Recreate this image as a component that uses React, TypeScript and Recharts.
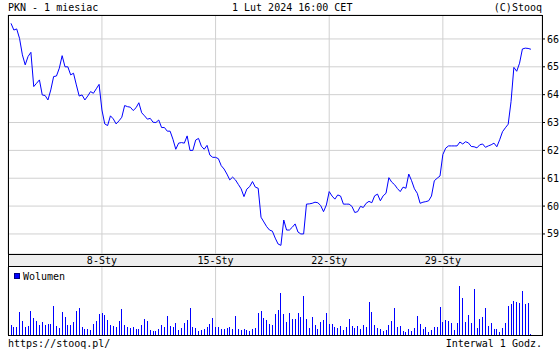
import { LineChart, Line, BarChart, Bar, XAxis, YAxis, CartesianGrid } from "recharts";

const FONT = "'DejaVu Sans Mono', monospace";
const BLUE = "#0000ff";
const GRID = "#d0d0d0";

// hourly closes, 2 Jan - 1 Feb 2024 (8 sessions hours per day)
const PRICES = [
  66.56, 66.32, 66.36, 66.02, 65.43, 65.07, 65.37, 65.52,
  64.29, 64.41, 64.53, 63.99, 63.97, 63.81, 64.17, 64.65,
  64.67, 64.95, 65.4, 65.0, 65.0, 64.71, 64.77, 64.35,
  63.95, 63.99, 63.81, 63.95, 64.11, 64.05, 64.21, 64.37,
  63.45, 62.95, 62.89, 63.24, 63.13, 62.95, 63.06, 63.19,
  63.61, 63.57, 63.55, 63.43, 63.53, 63.71, 63.35, 63.24,
  63.12, 63.15, 63.01, 63.0, 63.09, 62.82, 62.82, 62.69,
  62.69, 62.4, 62.04, 62.26, 62.28, 62.26, 62.52, 62.0,
  62.0, 62.37, 62.43, 62.15, 62.04, 62.18, 61.83, 61.75,
  61.75, 61.7, 61.45, 61.33, 61.15, 60.94, 61.04, 60.94,
  60.78, 60.62, 60.34, 60.61, 60.7, 60.88, 60.68, 60.64,
  59.6, 59.43, 59.26, 59.14, 59.1, 58.85, 58.64, 58.59,
  59.5, 59.14, 59.14, 59.24, 59.36, 59.07, 59.0, 59.0,
  60.07, 60.08, 60.1, 60.14, 60.12, 60.02, 59.8, 60.04,
  60.52, 60.36, 60.25, 60.4, 60.36, 60.07, 60.07, 60.07,
  59.99, 59.77, 59.8, 59.99, 59.95, 60.1, 60.17, 60.12,
  60.37, 60.43, 60.19, 60.37, 60.46, 61.02, 60.86, 60.77,
  60.63, 60.52, 60.68, 60.64, 61.15, 60.91, 60.62, 60.46,
  60.1, 60.14, 60.16, 60.19, 60.36, 60.91, 61.0, 61.08,
  61.85, 62.08, 62.16, 62.16, 62.16, 62.16, 62.3, 62.23,
  62.31, 62.27, 62.14, 62.13, 62.09, 62.2, 62.23, 62.11,
  62.16, 62.2, 62.26, 62.13, 62.38, 62.67, 62.81, 62.94,
  63.75, 64.98, 64.84, 65.13, 65.64, 65.67, 65.66, 65.63,
];

const VOLUMES = [
  30, 24, 24, 69, 42, 25, 27, 72, 50, 42,
  30, 40, 30, 32, 34, 87, 27, 22, 69, 54,
  30, 29, 39, 72, 80, 24, 17, 17, 15, 34,
  42, 64, 65, 60, 44, 30, 26, 24, 42, 77,
  30, 25, 22, 24, 17, 18, 30, 49, 42, 14,
  12, 12, 17, 30, 25, 57, 27, 25, 35, 14,
  22, 36, 45, 80, 25, 22, 12, 16, 17, 24,
  34, 51, 24, 24, 18, 19, 20, 25, 19, 57,
  19, 14, 17, 14, 12, 19, 22, 65, 72, 50,
  44, 34, 29, 62, 74,
  125, 64, 39, 67, 47, 47, 65, 54, 117, 47,
  22, 54, 30, 17, 39, 45, 65, 34, 32, 24,
  20, 27, 15, 24, 47, 27, 20, 27, 17, 30,
  24, 99, 69, 30, 20, 17, 12, 15, 30, 42,
  82, 24, 27, 12, 10, 17, 12, 20, 57, 34,
  17, 25, 10, 15, 24, 24, 84, 39, 45, 42,
  37, 15, 37, 147, 112, 39, 60, 37, 139, 20,
  47, 54, 80, 27, 37, 17, 17, 10, 20, 37,
  87, 94, 102, 99, 95, 132, 94, 97, 4,
];

const DAY_TICKS = [32, 72, 112, 152];
const DAY_LABELS = ["8-Sty", "15-Sty", "22-Sty", "29-Sty"];
const PRICE_TICKS = [59, 60, 61, 62, 63, 64, 65, 66];

const rows = PRICES.map((close, i) => ({ i, close, vol: VOLUMES[i] }));
const X_DOMAIN = [-1.06, 186.9];

const dayLabel = (v: number) => DAY_LABELS[DAY_TICKS.indexOf(v)] ?? "";
const tickFont = { fontSize: 10, fontFamily: FONT, fill: "#000" };

function VolBar(props: any) {
  const { x, y, height } = props;
  if (!height) return null;
  return <rect x={Math.round(x)} y={Math.round(y)} width={1} height={Math.round(height)} fill={BLUE} />;
}

export default function App() {
  return (
    <div style={{ position: "absolute", left: 0, top: 0, width: 560, height: 350, background: "#fff" }}>
      <svg width={560} height={350} style={{ position: "absolute", left: 0, top: 0 }}>
        <rect x={8} y={254} width={535} height={12} fill="#eeeeee" />
      </svg>

      <div style={{ position: "absolute", left: 0, top: 0 }}>
        <LineChart width={560} height={266} data={rows} margin={{ top: 15, right: 0, bottom: 0, left: 8 }}>
          <CartesianGrid stroke={GRID} />
          <XAxis
            dataKey="i"
            type="number"
            domain={X_DOMAIN}
            ticks={DAY_TICKS}
            interval={0}
            tickFormatter={dayLabel}
            height={12}
            axisLine={false}
            tickLine={false}
            tickSize={0}
            tickMargin={3}
            tick={tickFont}
            allowDataOverflow
          />
          <YAxis
            orientation="right"
            width={18}
            domain={[58.28, 66.86]}
            ticks={PRICE_TICKS}
            interval={0}
            axisLine={false}
            tickLine={{ stroke: "#000" }}
            tickSize={3}
            tickMargin={2}
            tick={tickFont}
            allowDataOverflow
          />
          <YAxis
            yAxisId="l"
            orientation="left"
            mirror
            width={0}
            domain={[58.28, 66.86]}
            ticks={PRICE_TICKS}
            interval={0}
            axisLine={false}
            tickLine={{ stroke: "#000" }}
            tickSize={3}
            tickFormatter={() => ""}
            allowDataOverflow
          />
          <Line
            type="linear"
            dataKey="close"
            stroke={BLUE}
            strokeWidth={1}
            dot={false}
            isAnimationActive={false}
          />
        </LineChart>
      </div>

      <div style={{ position: "absolute", left: 0, top: 267 }}>
        <BarChart width={560} height={68} data={rows} margin={{ top: 0, right: 18, bottom: 0, left: 8 }}>
          <CartesianGrid horizontal={false} stroke={GRID} />
          <XAxis
            dataKey="i"
            type="number"
            domain={X_DOMAIN}
            ticks={DAY_TICKS}
            interval={0}
            orientation="top"
            mirror
            height={0}
            axisLine={false}
            tickLine={{ stroke: "#000" }}
            tickSize={3}
            tickFormatter={() => ""}
            allowDataOverflow
          />
          <YAxis hide domain={[0, 204]} allowDataOverflow />
          <Bar dataKey="vol" fill={BLUE} barSize={1} shape={VolBar} isAnimationActive={false} />
        </BarChart>
      </div>

      <svg width={560} height={350} style={{ position: "absolute", left: 0, top: 0, pointerEvents: "none" }}>
        <g fill="none" stroke="#000" strokeWidth={1} shapeRendering="crispEdges">
          <rect x={8.5} y={15.5} width={534} height={320} />
          <line x1={8} x2={543} y1={254.5} y2={254.5} />
          <line x1={8} x2={543} y1={266.5} y2={266.5} />
        </g>
        <g fontFamily={FONT} fontSize={10} fill="#000">
          <text x={8} y={11}>PKN - 1 miesiac</text>
          <text x={232} y={11}>1 Lut 2024 16:00 CET</text>
          <text x={542} y={11} textAnchor="end">(C)Stooq</text>
          <text x={8} y={347}>https://stooq.pl/</text>
          <text x={542} y={347} textAnchor="end">Interwal 1 Godz.</text>
          <text x={23} y={280}>Wolumen</text>
        </g>
        <rect x={14.5} y={273.5} width={5} height={5} fill={BLUE} stroke="#000080" shapeRendering="crispEdges" />
      </svg>
    </div>
  );
}
